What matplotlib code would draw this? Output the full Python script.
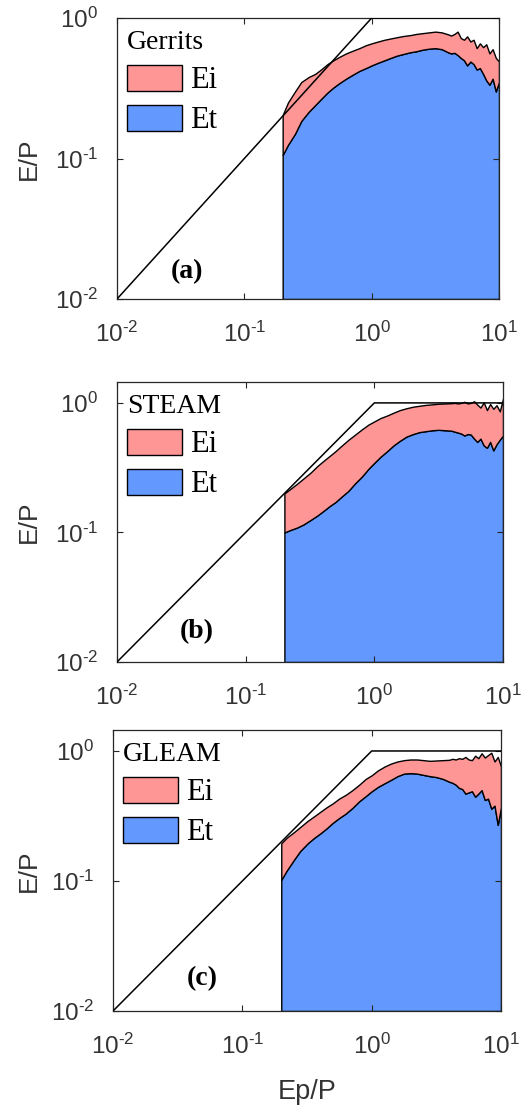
import matplotlib
matplotlib.use("Agg")
import matplotlib.pyplot as plt
from matplotlib.ticker import FuncFormatter
import numpy as np

plt.rcParams["font.family"] = "Liberation Sans"
plt.rcParams["mathtext.fontset"] = "custom"
plt.rcParams["mathtext.rm"] = "Liberation Sans"
plt.rcParams["mathtext.it"] = "Liberation Sans:italic"
plt.rcParams["mathtext.bf"] = "Liberation Sans:bold"

# Ep/P bins (shared by the three panels)
ep_p = [0.2, 0.22, 0.25, 0.28, 0.32, 0.36, 0.4, 0.45, 0.5, 0.56, 0.63, 0.71, 0.8, 0.9,
        1.0, 1.12, 1.26, 1.41, 1.58, 1.78, 2.0, 2.24, 2.51, 2.82, 3.16, 3.55, 3.98,
        4.2, 4.47, 4.73, 5.01, 5.31, 5.62, 5.96, 6.31, 6.68, 7.08, 7.5, 7.94, 8.41,
        8.91, 9.44, 10.0]

# (a) Gerrits: Et and Et+Ei (upper edge of the Ei band)
gerrits_et = [0.106, 0.125, 0.15, 0.185, 0.215, 0.24, 0.265, 0.295, 0.32, 0.345, 0.37,
              0.395, 0.42, 0.44, 0.46, 0.48, 0.50, 0.52, 0.54, 0.555, 0.57, 0.58, 0.595,
              0.605, 0.61, 0.60, 0.57, 0.56, 0.565, 0.545, 0.52, 0.50, 0.46, 0.49, 0.47,
              0.43, 0.44, 0.40, 0.36, 0.335, 0.37, 0.30, 0.35]
gerrits_top = [0.204, 0.25, 0.30, 0.35, 0.38, 0.40, 0.43, 0.47, 0.50, 0.53, 0.56, 0.585,
               0.61, 0.64, 0.66, 0.68, 0.70, 0.715, 0.73, 0.745, 0.755, 0.77, 0.78, 0.79,
               0.80, 0.79, 0.765, 0.75, 0.77, 0.80, 0.72, 0.70, 0.74, 0.68, 0.70, 0.61,
               0.66, 0.62, 0.65, 0.56, 0.60, 0.52, 0.49]

# (b) STEAM
steam_et = [0.10, 0.104, 0.109, 0.115, 0.125, 0.135, 0.146, 0.16, 0.172, 0.19, 0.21,
            0.24, 0.27, 0.31, 0.345, 0.385, 0.425, 0.47, 0.51, 0.55, 0.575, 0.595, 0.605,
            0.615, 0.62, 0.615, 0.61, 0.60, 0.59, 0.58, 0.56, 0.575, 0.57, 0.53, 0.50,
            0.53, 0.47, 0.45, 0.50, 0.43, 0.48, 0.52, 0.56]
steam_top = [0.20, 0.215, 0.237, 0.26, 0.29, 0.325, 0.355, 0.39, 0.425, 0.47, 0.52, 0.57,
             0.625, 0.68, 0.72, 0.765, 0.80, 0.84, 0.88, 0.91, 0.935, 0.95, 0.965, 0.975,
             0.985, 0.99, 0.995, 1.0, 0.99, 1.0, 1.02, 0.99, 1.0, 1.03, 0.97, 0.92, 1.01,
             0.88, 0.98, 0.90, 0.96, 0.86, 1.08]

# (c) GLEAM
gleam_et = [0.102, 0.12, 0.145, 0.17, 0.195, 0.215, 0.232, 0.255, 0.28, 0.305, 0.33,
            0.365, 0.41, 0.45, 0.49, 0.53, 0.565, 0.60, 0.64, 0.67, 0.675, 0.67, 0.655,
            0.64, 0.63, 0.61, 0.58, 0.57, 0.55, 0.52, 0.51, 0.47, 0.48, 0.49, 0.445, 0.47,
            0.50, 0.42, 0.43, 0.36, 0.38, 0.27, 0.37]
gleam_top = [0.195, 0.215, 0.237, 0.26, 0.29, 0.315, 0.34, 0.37, 0.395, 0.43, 0.46, 0.50,
             0.55, 0.61, 0.65, 0.71, 0.76, 0.80, 0.83, 0.85, 0.86, 0.86, 0.85, 0.84, 0.845,
             0.85, 0.855, 0.87, 0.86, 0.88, 0.87, 0.90, 0.86, 0.85, 0.92, 0.88, 0.96, 0.89,
             0.93, 0.97, 0.83, 0.90, 0.76]

# energy / water limit: E/P = Ep/P up to 1, then E/P = 1
limit_x = [0.01, 1.0, 10.0]
limit_y = [0.01, 1.0, 1.0]

models = ["Gerrits", "STEAM", "GLEAM"]
letters = ["(a)", "(b)", "(c)"]
et_series = [gerrits_et, steam_et, gleam_et]
top_series = [gerrits_top, steam_top, gleam_top]
xticks = [0.01, 0.1, 1, 10]
yticks = [0.01, 0.1, 1]

pink = "#ff9696"
blue = "#6398ff"
W, H = 522, 1112
# axes boxes in pixels: left, top, right, bottom
boxes = [(117, 18, 499, 299), (117, 382, 503, 662), (113, 730, 501, 1011)]
ytops = [1.0, 1.45, 1.45]
letter_pos = [(0.183, 0.096), (0.206, 0.108), (0.229, 0.116)]


def pow10(v, pos):
    # matlab style label: short hyphen in the exponent
    e = int(round(np.log10(v)))
    if e < 0:
        return r"$\mathdefault{10^{\text{-}%d}}$" % (-e)
    return r"$\mathdefault{10^{%d}}$" % e


fig = plt.figure(figsize=(W / 100, H / 100), dpi=100)

for i in range(3):
    l, t, r, b = boxes[i]
    ax = fig.add_axes([l / W, 1 - b / H, (r - l) / W, (b - t) / H])
    ax.set_xscale("log")
    ax.set_yscale("log")

    et_fill = ax.fill_between(ep_p, 0.01, et_series[i], facecolor=blue,
                              edgecolor="black", linewidth=1.0, label="Et")
    ei_fill = ax.fill_between(ep_p, et_series[i], top_series[i], facecolor=pink,
                              edgecolor="black", linewidth=1.0, label="Ei")
    ax.plot(limit_x, limit_y, color="black", linewidth=1.1, zorder=3)

    ax.set_xlim(0.01, 10)
    ax.set_ylim(0.01, ytops[i])
    ax.set_xticks(xticks)
    ax.set_yticks(yticks)
    ax.minorticks_off()
    ax.xaxis.set_major_formatter(FuncFormatter(pow10))
    ax.yaxis.set_major_formatter(FuncFormatter(pow10))
    ax.tick_params(direction="in", top=True, right=True, length=4, width=0.8,
                   labelsize=17.5, labelcolor="#333333", color="#262626")
    ax.tick_params(axis="x", pad=16)
    ax.tick_params(axis="y", pad=13.5)
    for sp in ax.spines.values():
        sp.set_color("#262626")
        sp.set_linewidth(0.9)

    ax.set_ylabel("E/P", fontsize=19, color="#333333")
    ax.yaxis.set_label_coords((29 - l) / (r - l), 0.5)
    ax.yaxis.label.set_va("center")

    leg = ax.legend(handles=[ei_fill, et_fill], title=models[i], loc="upper left",
                    bbox_to_anchor=(10 / (r - l), 1 - 12 / (b - t)),
                    frameon=False, borderpad=0, borderaxespad=0,
                    prop={"family": "Liberation Serif", "size": 22},
                    title_fontproperties={"family": "Liberation Serif", "size": 20},
                    handlelength=1.8, handleheight=0.92, handletextpad=0.26,
                    labelspacing=0.32, alignment="left")

    ax.text(letter_pos[i][0], letter_pos[i][1], letters[i], transform=ax.transAxes,
            ha="center", va="center", fontsize=20, fontweight="bold",
            family="Liberation Serif")

    if i == 2:
        ax.set_xlabel("Ep/P", fontsize=19.5, color="#333333")
        ax.xaxis.set_label_coords(0.5, (1011 - 1092) / (b - t))
        ax.xaxis.label.set_va("center")

fig.savefig("out.png", dpi=100)
